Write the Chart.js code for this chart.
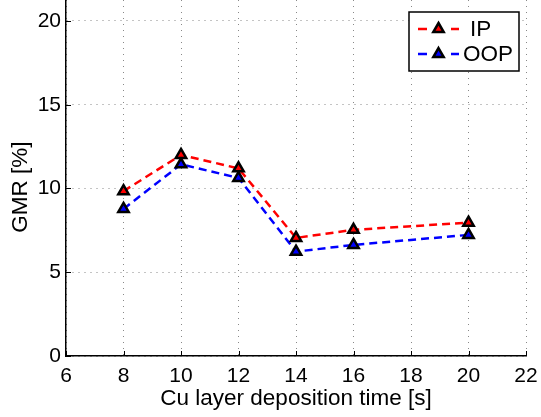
<!DOCTYPE html>
<html>
<head>
<meta charset="utf-8">
<script src="https://cdn.jsdelivr.net/npm/chart.js@4.4.1/dist/chart.umd.min.js"></script>
<style>
  html, body { margin: 0; padding: 0; background: #fff; }
  #wrap { width: 541px; height: 417px; }
</style>
</head>
<body>
<div id="wrap"><canvas id="gmrChart"></canvas></div>
<script>
// deposition times [s]
const times = [8, 10, 12, 14, 16, 20];
// GMR [%]
const ipValues = [9.84, 12.0, 11.2, 7.05, 7.53, 7.96];
const oopValues = [8.78, 11.44, 10.63, 6.23, 6.63, 7.23];

const xTicks = [6, 8, 10, 12, 14, 16, 18, 20, 22];
const yTicks = [0, 5, 10, 15, 20];

const FONT = '"Liberation Sans", Arial, Helvetica, sans-serif';

function toPoints(vals) {
    return times.map((t, i) => ({ x: t, y: vals[i] }));
}

// MATLAB-ish inward ticks, legend box and y label
const matlabBits = {
    id: 'matlabBits',
    afterDraw(chart) {
        const ctx = chart.ctx;
        const xs = chart.scales.x;
        const ys = chart.scales.y;
        const area = chart.chartArea;

        ctx.save();
        ctx.strokeStyle = '#000';
        ctx.lineWidth = 1;
        xTicks.forEach(v => {
            const px = Math.round(xs.getPixelForValue(v)) + 0.5;
            ctx.beginPath();
            ctx.moveTo(px, area.bottom);
            ctx.lineTo(px, area.bottom - 5);
            ctx.stroke();
        });
        yTicks.forEach(v => {
            const py = Math.round(ys.getPixelForValue(v)) + 0.5;
            ctx.beginPath();
            ctx.moveTo(area.left, py);
            ctx.lineTo(area.left + 5, py);
            ctx.stroke();
        });

        // y axis title
        ctx.fillStyle = '#000';
        ctx.font = '22.5px ' + FONT;
        ctx.textAlign = 'center';
        ctx.textBaseline = 'middle';
        ctx.translate(21, 187);
        ctx.rotate(-Math.PI / 2);
        ctx.fillText('GMR [%]', 0, 0);
        ctx.restore();

        // legend
        ctx.save();
        ctx.fillStyle = '#fff';
        ctx.fillRect(409, 12, 110, 59);
        ctx.strokeStyle = '#000';
        ctx.lineWidth = 1.5;
        ctx.strokeRect(409, 12, 110, 59);

        const rows = [
            { label: 'IP', color: '#ff0000', y: 29, tx: 470 },
            { label: 'OOP', color: '#0000ff', y: 54, tx: 463 }
        ];
        rows.forEach(r => {
            ctx.strokeStyle = r.color;
            ctx.lineWidth = 2.5;
            ctx.beginPath();
            ctx.moveTo(418, r.y); ctx.lineTo(427, r.y);
            ctx.moveTo(451, r.y); ctx.lineTo(459, r.y);
            ctx.stroke();

            const cx = 438.5, rad = 6;
            ctx.beginPath();
            ctx.moveTo(cx, r.y - rad);
            ctx.lineTo(cx + rad * Math.sqrt(3) / 2, r.y + rad / 2);
            ctx.lineTo(cx - rad * Math.sqrt(3) / 2, r.y + rad / 2);
            ctx.closePath();
            ctx.fillStyle = r.color;
            ctx.fill();
            ctx.strokeStyle = '#000';
            ctx.lineWidth = 2.5;
            ctx.stroke();

            ctx.fillStyle = '#000';
            ctx.font = '22.5px ' + FONT;
            ctx.textAlign = 'left';
            ctx.textBaseline = 'middle';
            ctx.fillText(r.label, r.tx, r.y + 1);
        });
        ctx.restore();
    }
};

const gridStyle = {
    color: '#888',
    lineWidth: 1,
    drawTicks: false
};

const gmrChart = new Chart(
    document.getElementById('gmrChart'),
    {
        type: 'line',
        data: {
            datasets: [
                {
                    label: 'IP',
                    data: toPoints(ipValues),
                    borderColor: '#ff0000',
                    backgroundColor: '#ff0000',
                    borderWidth: 2.5,
                    borderDash: [8, 5],
                    pointStyle: 'triangle',
                    pointRadius: 6,
                    pointBorderWidth: 2.5,
                    pointBorderColor: '#000',
                    pointBackgroundColor: '#ff0000',
                    tension: 0
                },
                {
                    label: 'OOP',
                    data: toPoints(oopValues),
                    borderColor: '#0000ff',
                    backgroundColor: '#0000ff',
                    borderWidth: 2.5,
                    borderDash: [8, 5],
                    pointStyle: 'triangle',
                    pointRadius: 6,
                    pointBorderWidth: 2.5,
                    pointBorderColor: '#000',
                    pointBackgroundColor: '#0000ff',
                    tension: 0
                }
            ]
        },
        options: {
            responsive: true,
            maintainAspectRatio: false,
            animation: false,
            layout: { autoPadding: false, padding: { top: 0, right: 15, left: 0, bottom: 5 } },
            plugins: {
                legend: { display: false },
                tooltip: { enabled: false }
            },
            scales: {
                x: {
                    type: 'linear',
                    min: 6,
                    max: 22,
                    afterBuildTicks: s => { s.ticks = xTicks.map(v => ({ value: v })); },
                    afterFit: s => { s.height = 56; s.paddingLeft = 0; s.paddingRight = 0; },
                    ticks: {
                        color: '#000',
                        font: { family: FONT, size: 21 },
                        padding: 8,
                        maxRotation: 0
                    },
                    grid: gridStyle,
                    border: { display: true, color: '#000', width: 1.5, dash: [1, 5] },
                    title: {
                        display: true,
                        text: 'Cu layer deposition time [s]',
                        color: '#000',
                        font: { family: FONT, size: 22.5 },
                        padding: { top: 0, bottom: 0 }
                    }
                },
                y: {
                    min: 0,
                    max: 21.25,
                    afterBuildTicks: s => { s.ticks = yTicks.map(v => ({ value: v })); },
                    afterFit: s => { s.width = 66; s.paddingTop = 0; s.paddingBottom = 0; },
                    ticks: {
                        color: '#000',
                        font: { family: FONT, size: 21 },
                        padding: 5
                    },
                    grid: gridStyle,
                    border: { display: true, color: '#000', width: 1.5, dash: [1, 5] }
                }
            }
        },
        plugins: [matlabBits]
    }
);
</script>
</body>
</html>
